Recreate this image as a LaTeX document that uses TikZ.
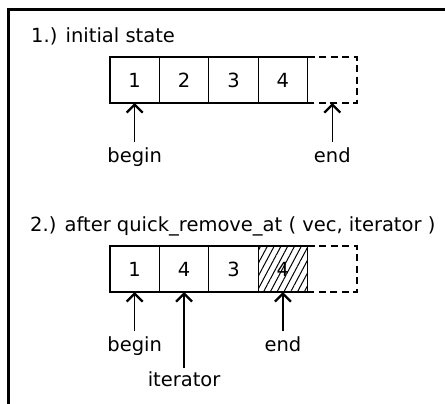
\documentclass[tikz,border=0pt]{standalone}
\usepackage{fontspec}
\setmainfont{DejaVu Sans}
\usetikzlibrary{arrows.meta, positioning, patterns.meta}

\begin{document}
\begin{tikzpicture}[
  x=1pt, y=1pt,
  node distance=0pt,
  font=\fontsize{19.5}{23}\selectfont,
  cell/.style={rectangle, draw, line width=1.3pt, minimum width=49.4pt,
               minimum height=46pt, inner sep=0pt, outer sep=0pt},
  hatched/.style={pattern={Lines[angle=62, distance=6pt, line width=1pt]}},
  lbl/.style={anchor=base, inner xsep=0pt, inner ysep=6pt},
  arr/.style={-{Straight Barb[length=8pt, width=16pt, line width=2.3pt]}, line width=1.5pt},
  dashcell/.style={dash pattern=on 7pt off 4.5pt, line width=1.3pt}
]
\useasboundingbox (0,0) rectangle (445,404);
% frame
\draw[line width=2.5pt] (8.5,0) -- (8.5,394.5) -- (445,394.5);

% 1.) initial state
\node[anchor=base west, inner sep=0pt] (title1) at (31,361) {1.) initial state};
\node[cell] (a1) at (134.7,324) {1};
\node[cell, right=of a1] (a2) {2};
\node[cell, right=of a2] (a3) {3};
\node[cell, right=of a3] (a4) {4};
\node[cell, draw=none, right=of a4] (a5) {};
\draw[dashcell] (a5.north west) -- (a5.north east) -- (a5.south east) -- (a5.south west);
\node[lbl] (begin1) at (a1 |- 0,241) {begin};
\node[lbl] (end1)   at (a5 |- 0,241) {end};
\draw[arr] (begin1.north) -- (a1.south);
\draw[arr] (end1.north)   -- (a5.south);

% 2.) after quick_remove_at
\node[anchor=base west, inner sep=0pt] (title2) at (30,172) {2.) after quick\_remove\_at ( vec, iterator )};
\node[cell] (b1) at (134.7,135) {1};
\node[cell, right=of b1] (b2) {4};
\node[cell, right=of b2] (b3) {3};
\node[cell, hatched, right=of b3] (b4) {4};
\node[cell, draw=none, right=of b4] (b5) {};
\draw[dashcell] (b5.north west) -- (b5.north east) -- (b5.south east) -- (b5.south west);
\node[lbl] (begin2) at (b1 |- 0,52) {begin};
\node[lbl] (end2)   at (b4 |- 0,52) {end};
\node[lbl, inner ysep=4pt] (iter2) at (b2 |- 0,17) {iterator};
\draw[arr] (begin2.north) -- (b1.south);
\draw[arr] (iter2.north)  -- (b2.south);
\draw[arr] (end2.north)   -- (b4.south);
\end{tikzpicture}
\end{document}
